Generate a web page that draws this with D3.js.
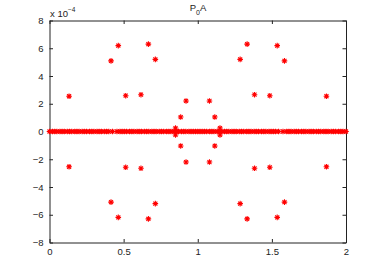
<!DOCTYPE html>
<html>
<head>
<meta charset="utf-8">
<script src="https://cdnjs.cloudflare.com/ajax/libs/d3/7.8.5/d3.min.js"></script>
<style>
  body { margin: 0; background: #fff; }
  text { font-family: "Liberation Sans", Arial, sans-serif; }
</style>
</head>
<body>
<div id="visHolder"></div>
<script>
var width = 382;
var height = 273;

// off-axis points (x, value in units of 1e-4)
var outerX = [0.132, 0.415, 0.464, 0.514, 0.617, 0.667, 0.714, 0.885, 0.921,
  1.079, 1.115, 1.286, 1.333, 1.383, 1.486, 1.536, 1.585, 1.868];
var outerY = [2.54, 5.09, 6.19, 2.58, 2.65, 6.30, 5.20, 1.04, 2.20,
  2.20, 1.04, 5.20, 6.30, 2.65, 2.58, 6.19, 5.09, 2.54];

// points lying on (or very near) zero
var zeroX = [0, 0.02, 0.035, 0.05, 0.07, 0.085, 0.1, 0.12, 0.135, 0.15, 0.17, 0.185, 0.2,
  0.22, 0.235, 0.25, 0.27, 0.285, 0.3, 0.32, 0.335, 0.35, 0.37, 0.385, 0.4, 0.425, 0.455,
  0.475, 0.49, 0.505, 0.52, 0.54, 0.555, 0.57, 0.59, 0.605, 0.62, 0.64, 0.655, 0.67, 0.69,
  0.705, 0.72, 0.74, 0.755, 0.77, 0.79, 0.805, 0.82, 0.84, 0.855, 0.87, 0.89, 0.905, 0.92,
  0.94, 0.955, 0.97, 0.985, 1.0, 1.015, 1.03, 1.045, 1.06, 1.08, 1.095, 1.11, 1.13, 1.145,
  1.16, 1.18, 1.195, 1.21, 1.23, 1.245, 1.26, 1.28, 1.295, 1.31, 1.33, 1.345, 1.36, 1.38,
  1.395, 1.41, 1.43, 1.445, 1.46, 1.48, 1.495, 1.51, 1.525, 1.545, 1.575, 1.6, 1.615, 1.63,
  1.65, 1.665, 1.68, 1.7, 1.715, 1.73, 1.75, 1.765, 1.78, 1.8, 1.815, 1.83, 1.85, 1.865,
  1.88, 1.9, 1.915, 1.93, 1.95, 1.965, 1.98, 2.0];
var nearZeroX = [0.85, 0.85, 1.15, 1.15];
var nearZeroY = [0.25, -0.25, 0.25, -0.25];

var xTicks = [0, 0.5, 1, 1.5, 2];
var xTickLabels = ["0", "0.5", "1", "1.5", "2"];
var yTicks = [-8, -6, -4, -2, 0, 2, 4, 6, 8];

var points = [];
outerX.forEach((x, i) => {
  points.push({ x: x, y: outerY[i] });
  points.push({ x: x, y: -outerY[i] });
});
zeroX.forEach((x) => points.push({ x: x, y: 0 }));
nearZeroX.forEach((x, i) => points.push({ x: x, y: nearZeroY[i] }));

var svg = d3
  .select("#visHolder")
  .append("svg")
  .attr("width", width)
  .attr("height", height);

svg.append("rect").attr("width", width).attr("height", height).attr("fill", "#fff");

var plotLeft = 49.5, plotRight = 346, plotTop = 20.5, plotBottom = 242.5;

var xScale = d3.scaleLinear().domain([0, 2]).range([plotLeft, plotRight]);
var yScale = d3.scaleLinear().domain([-8, 8]).range([plotBottom, plotTop]);

var axisColor = "#222";
var tickLen = 3.5;

// all four sides, ticks pointing inward
var xAxisB = d3.axisBottom(xScale).tickValues(xTicks)
  .tickFormat((v, i) => xTickLabels[i]).tickSizeInner(-tickLen).tickSizeOuter(0).tickPadding(6);
var xAxisT = d3.axisTop(xScale).tickValues(xTicks)
  .tickFormat("").tickSizeInner(-tickLen).tickSizeOuter(0);
var yAxisL = d3.axisLeft(yScale).tickValues(yTicks)
  .tickFormat((v) => v < 0 ? "\u2212" + Math.abs(v) : v).tickSizeInner(-tickLen).tickSizeOuter(0).tickPadding(6);
var yAxisR = d3.axisRight(yScale).tickValues(yTicks)
  .tickFormat("").tickSizeInner(-tickLen).tickSizeOuter(0);

function styleAxis(g) {
  g.select(".domain").attr("stroke", axisColor);
  g.selectAll(".tick line").attr("stroke", axisColor);
  g.selectAll(".tick text").attr("fill", "#222").attr("font-size", "9.5px")
    .attr("font-family", "Liberation Sans, Arial, sans-serif");
}

svg.append("g").attr("transform", "translate(0," + plotBottom + ")").call(xAxisB).call(styleAxis);
svg.append("g").attr("transform", "translate(0," + plotTop + ")").call(xAxisT).call(styleAxis);
svg.append("g").attr("transform", "translate(" + plotLeft + ",0)").call(yAxisL).call(styleAxis);
svg.append("g").attr("transform", "translate(" + plotRight + ",0)").call(yAxisR).call(styleAxis);

// asterisk markers
var r = 2.8, dg = 2.0;
var star = "M" + (-r) + ",0L" + r + ",0M0," + (-r) + "L0," + r +
  "M" + (-dg) + "," + (-dg) + "L" + dg + "," + dg + "M" + (-dg) + "," + dg + "L" + dg + "," + (-dg);

svg.append("g")
  .selectAll("path")
  .data(points)
  .enter()
  .append("path")
  .attr("d", star)
  .attr("transform", (p) => "translate(" + xScale(p.x) + "," + yScale(p.y) + ")")
  .attr("fill", "none")
  .attr("stroke", "#ff0000")
  .attr("stroke-width", 1.1);

// exponent label
var expo = svg.append("text")
  .attr("x", plotLeft + 0.5)
  .attr("y", 16.5)
  .attr("font-size", "9.5px")
  .attr("fill", "#222");
expo.append("tspan").text("x 10");
expo.append("tspan").attr("dy", -4.5).attr("font-size", "6.5px").text("\u22124");

// title
var title = svg.append("text")
  .attr("x", 198)
  .attr("y", 11)
  .attr("text-anchor", "middle")
  .attr("font-size", "9.5px")
  .attr("fill", "#222");
title.append("tspan").text("P");
title.append("tspan").attr("dy", 3.5).attr("font-size", "7px").text("0");
title.append("tspan").attr("dy", -3.5).text("A");
</script>
</body>
</html>
